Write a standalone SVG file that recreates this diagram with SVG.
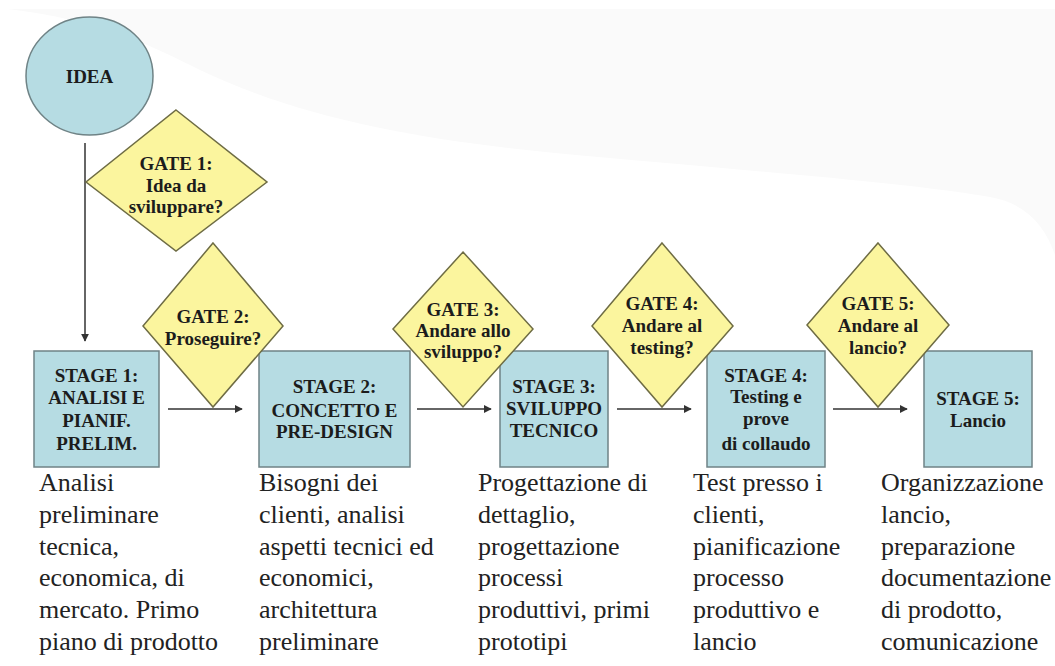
<svg xmlns="http://www.w3.org/2000/svg" width="1055" height="666" viewBox="0 0 1055 666">
<style>
.stage{fill:#b6dce3;stroke:#6f8386;stroke-width:1.5}
.gate{fill:#fbf59e;stroke:#6e6c44;stroke-width:1.5}
.lbl{font-family:'Liberation Serif','Times New Roman',serif;font-weight:bold;font-size:19px;fill:#1c1c1c;text-anchor:middle}
.desc{font-family:'Liberation Serif','Times New Roman',serif;font-size:26px;fill:#222}
.conn{stroke:#333;stroke-width:1.5;fill:none}
</style>
<defs>
<marker id="arr" viewBox="0 0 10 10" refX="9" refY="5" markerWidth="8" markerHeight="8" markerUnits="userSpaceOnUse" orient="auto">
<path d="M0,0 L10,5 L0,10 z" fill="#333"/>
</marker>
</defs>
<rect width="1055" height="666" fill="#ffffff"/>
<path d="M8,9 H1055 V255 C1045,225 1025,203 990,197 C900,182 760,172 555,153 C420,140 300,118 200,70 C150,45 100,20 8,9 z" fill="#fafafa"/>

<g id="connectors">
<line class="conn" x1="85" y1="143" x2="85" y2="341" marker-end="url(#arr)"/>
<line class="conn" x1="168" y1="409" x2="242" y2="409" marker-end="url(#arr)"/>
<line class="conn" x1="417" y1="409" x2="491" y2="409" marker-end="url(#arr)"/>
<line class="conn" x1="617" y1="409" x2="691" y2="409" marker-end="url(#arr)"/>
<line class="conn" x1="833" y1="409" x2="907" y2="409" marker-end="url(#arr)"/>
</g>

<g id="idea">
<ellipse cx="89.5" cy="76" rx="63.5" ry="59" class="stage"/>
<text class="lbl" x="89.5" y="83">IDEA</text>
</g>

<g id="stage1">
<rect class="stage" x="34" y="351" width="125" height="116"/>
<text class="lbl" x="96.5" y="382">STAGE 1:</text>
<text class="lbl" x="96.5" y="404">ANALISI E</text>
<text class="lbl" x="96.5" y="427">PIANIF.</text>
<text class="lbl" x="96.5" y="450">PRELIM.</text>
</g>

<g id="stage2">
<rect class="stage" x="259" y="351" width="151" height="116"/>
<text class="lbl" x="334.5" y="393">STAGE 2:</text>
<text class="lbl" x="334.5" y="417">CONCETTO E</text>
<text class="lbl" x="334.5" y="438">PRE-DESIGN</text>
</g>

<g id="stage3">
<rect class="stage" x="500" y="351" width="108" height="116"/>
<text class="lbl" x="554" y="393">STAGE 3:</text>
<text class="lbl" x="554" y="415">SVILUPPO</text>
<text class="lbl" x="554" y="437">TECNICO</text>
</g>

<g id="stage4">
<rect class="stage" x="707" y="351" width="118" height="116"/>
<text class="lbl" x="766" y="382">STAGE 4:</text>
<text class="lbl" x="766" y="403">Testing e</text>
<text class="lbl" x="766" y="425">prove</text>
<text class="lbl" x="766" y="450">di collaudo</text>
</g>

<g id="stage5">
<rect class="stage" x="924" y="351" width="108" height="116"/>
<text class="lbl" x="978" y="405">STAGE 5:</text>
<text class="lbl" x="978" y="427">Lancio</text>
</g>

<g id="gate1">
<polygon class="gate" points="176,110 267,182 176,251 86,182"/>
<text class="lbl" x="176" y="170">GATE 1:</text>
<text class="lbl" x="176" y="192">Idea da</text>
<text class="lbl" x="176" y="213">sviluppare?</text>
</g>

<g id="gate2">
<polygon class="gate" points="213,243 283,326 213,407 143,326"/>
<text class="lbl" x="213" y="323">GATE 2:</text>
<text class="lbl" x="213" y="345">Proseguire?</text>
</g>

<g id="gate3">
<polygon class="gate" points="463,252 533,329 463,407 393,329"/>
<text class="lbl" x="463" y="316">GATE 3:</text>
<text class="lbl" x="463" y="337">Andare allo</text>
<text class="lbl" x="463" y="358">sviluppo?</text>
</g>

<g id="gate4">
<polygon class="gate" points="662,243 733,326 662,407 592,326"/>
<text class="lbl" x="662" y="310">GATE 4:</text>
<text class="lbl" x="662" y="332">Andare al</text>
<text class="lbl" x="662" y="354">testing?</text>
</g>

<g id="gate5">
<polygon class="gate" points="878,243 949,325 878,407 807,325"/>
<text class="lbl" x="878" y="310">GATE 5:</text>
<text class="lbl" x="878" y="332">Andare al</text>
<text class="lbl" x="878" y="354">lancio?</text>
</g>

<g id="desc1" class="desc">
<text x="39" y="491">Analisi</text>
<text x="39" y="523">preliminare</text>
<text x="39" y="555">tecnica,</text>
<text x="39" y="586">economica, di</text>
<text x="39" y="618">mercato. Primo</text>
<text x="39" y="650">piano di prodotto</text>
</g>

<g id="desc2" class="desc">
<text x="259" y="491">Bisogni dei</text>
<text x="259" y="523">clienti, analisi</text>
<text x="259" y="555">aspetti tecnici ed</text>
<text x="259" y="586">economici,</text>
<text x="259" y="618">architettura</text>
<text x="259" y="650">preliminare</text>
</g>

<g id="desc3" class="desc">
<text x="478" y="491">Progettazione di</text>
<text x="478" y="523">dettaglio,</text>
<text x="478" y="555">progettazione</text>
<text x="478" y="586">processi</text>
<text x="478" y="618">produttivi, primi</text>
<text x="478" y="650">prototipi</text>
</g>

<g id="desc4" class="desc">
<text x="693" y="491">Test presso i</text>
<text x="693" y="523">clienti,</text>
<text x="693" y="555">pianificazione</text>
<text x="693" y="586">processo</text>
<text x="693" y="618">produttivo e</text>
<text x="693" y="650">lancio</text>
</g>

<g id="desc5" class="desc">
<text x="881" y="491">Organizzazione</text>
<text x="881" y="523">lancio,</text>
<text x="881" y="555">preparazione</text>
<text x="881" y="586">documentazione</text>
<text x="881" y="618">di prodotto,</text>
<text x="881" y="650">comunicazione</text>
</g>
</svg>
